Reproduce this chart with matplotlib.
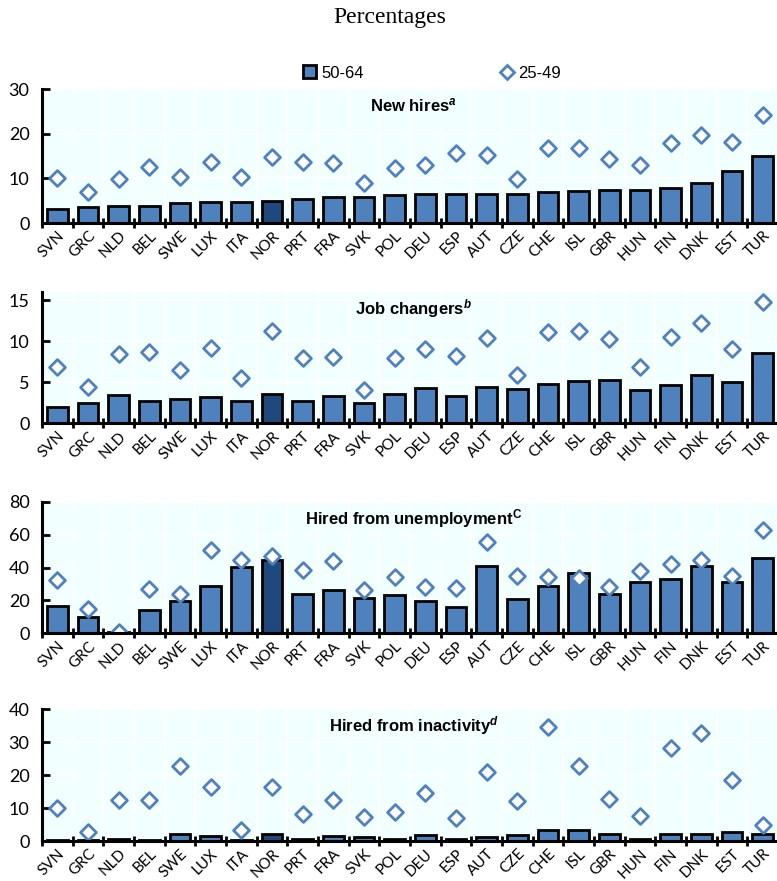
import numpy as np
import matplotlib.pyplot as plt
from matplotlib.lines import Line2D
from matplotlib.patches import Patch

countries = ["SVN", "GRC", "NLD", "BEL", "SWE", "LUX", "ITA", "NOR", "PRT", "FRA", "SVK", "POL",
             "DEU", "ESP", "AUT", "CZE", "CHE", "ISL", "GBR", "HUN", "FIN", "DNK", "EST", "TUR"]

# New hires
hires_5064 = [3.2, 3.5, 3.8, 3.8, 4.4, 4.7, 4.7, 5.0, 5.3, 5.9, 5.9, 6.2,
              6.5, 6.5, 6.5, 6.5, 6.9, 7.2, 7.4, 7.4, 7.8, 8.9, 11.6, 14.9]
hires_2549 = [10.0, 6.9, 9.9, 12.6, 10.4, 13.6, 10.4, 14.8, 13.6, 13.4, 8.9, 12.4,
              13.0, 15.7, 15.2, 9.9, 16.7, 16.9, 14.3, 13.0, 17.8, 19.6, 18.1, 24.2]

# Job changers
changers_5064 = [2.0, 2.5, 3.4, 2.7, 3.0, 3.2, 2.7, 3.6, 2.7, 3.3, 2.5, 3.6,
                 4.3, 3.3, 4.45, 4.2, 4.8, 5.1, 5.3, 4.0, 4.65, 5.9, 5.0, 8.6]
changers_2549 = [6.8, 4.4, 8.4, 8.7, 6.5, 9.2, 5.5, 11.2, 8.0, 8.1, 4.05, 7.9,
                 9.0, 8.15, 10.4, 5.9, 11.1, 11.2, 10.2, 6.9, 10.5, 12.2, 9.1, 14.7]

# Hired from unemployment
unemp_5064 = [16.4, 9.9, 0.5, 14.0, 19.6, 28.6, 40.1, 44.4, 23.7, 26.3, 21.5, 23.1,
              19.6, 15.8, 41.1, 20.7, 28.8, 36.9, 23.9, 31.2, 32.8, 40.9, 31.2, 45.8]
unemp_2549 = [32.4, 15.0, 0.8, 27.1, 24.1, 50.5, 44.6, 46.8, 38.7, 44.0, 26.5, 34.4,
              28.0, 27.4, 55.7, 34.8, 34.4, 33.4, 28.1, 37.9, 41.9, 44.7, 35.0, 62.6]

# Hired from inactivity
inact_5064 = [0.3, 0.3, 0.7, 0.3, 2.1, 1.4, 0.3, 2.1, 0.7, 1.4, 1.3, 0.6,
              1.9, 0.6, 1.3, 1.8, 3.3, 3.3, 2.2, 0.6, 2.1, 2.1, 2.6, 2.1]
inact_2549 = [10.1, 2.7, 12.5, 12.5, 22.7, 16.3, 3.4, 16.3, 8.2, 12.5, 7.4, 8.7,
              14.6, 7.1, 20.9, 12.2, 34.6, 22.9, 12.9, 7.6, 28.3, 32.8, 18.6, 4.9]

panels = [
    (r"New hires$^{\mathit{a}}$", hires_5064, hires_2549, 30, [0, 10, 20, 30]),
    (r"Job changers$^{\mathit{b}}$", changers_5064, changers_2549, 16, [0, 5, 10, 15]),
    (r"Hired from unemployment$^{\mathrm{C}}$", unemp_5064, unemp_2549, 80, [0, 20, 40, 60, 80]),
    (r"Hired from inactivity$^{\mathit{d}}$", inact_5064, inact_2549, 40, [0, 10, 20, 30, 40]),
]

plt.rcParams['mathtext.fontset'] = 'custom'
plt.rcParams['mathtext.it'] = 'Liberation Sans:italic:bold'
plt.rcParams['mathtext.rm'] = 'Liberation Sans:bold'

bar_col = "#4F81BD"
nor_col = "#1F497D"
bg_col = "#F2FFFF"

W, H = 777, 881
fig = plt.figure(figsize=(W / 100, H / 100), dpi=100)

# axes boxes in pixels: (top, bottom)
boxes = [(89, 223), (291.8, 423.3), (501.7, 633.3), (709.3, 841)]
left, right = 42, 778

x = np.arange(len(countries))
colors = [nor_col if c == "NOR" else bar_col for c in countries]

for (title, v1, v2, ymax, yticks), (top, bot) in zip(panels, boxes):
    ax = fig.add_axes([left / W, 1 - bot / H, (right - left) / W, (bot - top) / H])
    ax.set_facecolor(bg_col)
    ax.bar(x, v1, width=0.67, color=colors, edgecolor="black", linewidth=2, zorder=3)
    ax.scatter(x, v2, marker="D", s=65, facecolor="white", edgecolor=bar_col,
               linewidth=2, zorder=4)
    ax.set_xlim(-0.5, len(countries) - 0.5)
    ax.set_ylim(0, ymax)
    ax.set_yticks(yticks)
    ax.set_xticks(np.arange(len(countries) + 1) - 0.5)
    ax.set_xticklabels([])
    ax.set_xticks(x, minor=True)
    ax.set_xticklabels(countries, minor=True, rotation=45, ha="right",
                       rotation_mode="anchor", fontsize=11, family="Lato")
    ax.tick_params(axis="x", which="minor", length=0, pad=4)
    ax.tick_params(axis="x", which="major", direction="inout", length=7, width=2)
    ax.tick_params(axis="y", direction="in", length=6, width=2, labelsize=13, pad=9)
    for lab in ax.get_yticklabels():
        lab.set_family("Lato")
    ax.grid(True, which="major", color="white", linewidth=1.2, zorder=0)
    ax.set_axisbelow(True)
    for s in ["top", "right"]:
        ax.spines[s].set_visible(False)
    for s in ["left", "bottom"]:
        ax.spines[s].set_linewidth(2.2)
        ax.spines[s].set_zorder(5)
    ax.text(0.505, 0.875, title, transform=ax.transAxes, ha="center", va="center",
            fontsize=12, fontweight="bold", family="Liberation Sans", zorder=6)

fig.text(0.502, 1 - 17 / H, "Percentages", ha="center", va="center",
         fontsize=17, family="Liberation Serif")

handles = [Patch(facecolor=bar_col, edgecolor="black", linewidth=2),
           Line2D([], [], marker="D", linestyle="none", markersize=7.5,
                  markerfacecolor="white", markeredgecolor=bar_col, markeredgewidth=2)]
fig.legend(handles, ["50-64", "25-49"], loc="center", bbox_to_anchor=(432 / W, 1 - 73 / H),
           ncol=2, frameon=False, handlelength=0.8, handleheight=0.8,
           handletextpad=0.3, columnspacing=8.2, prop={"family": "Liberation Sans", "size": 12})

fig.savefig("out.png", dpi=100)
